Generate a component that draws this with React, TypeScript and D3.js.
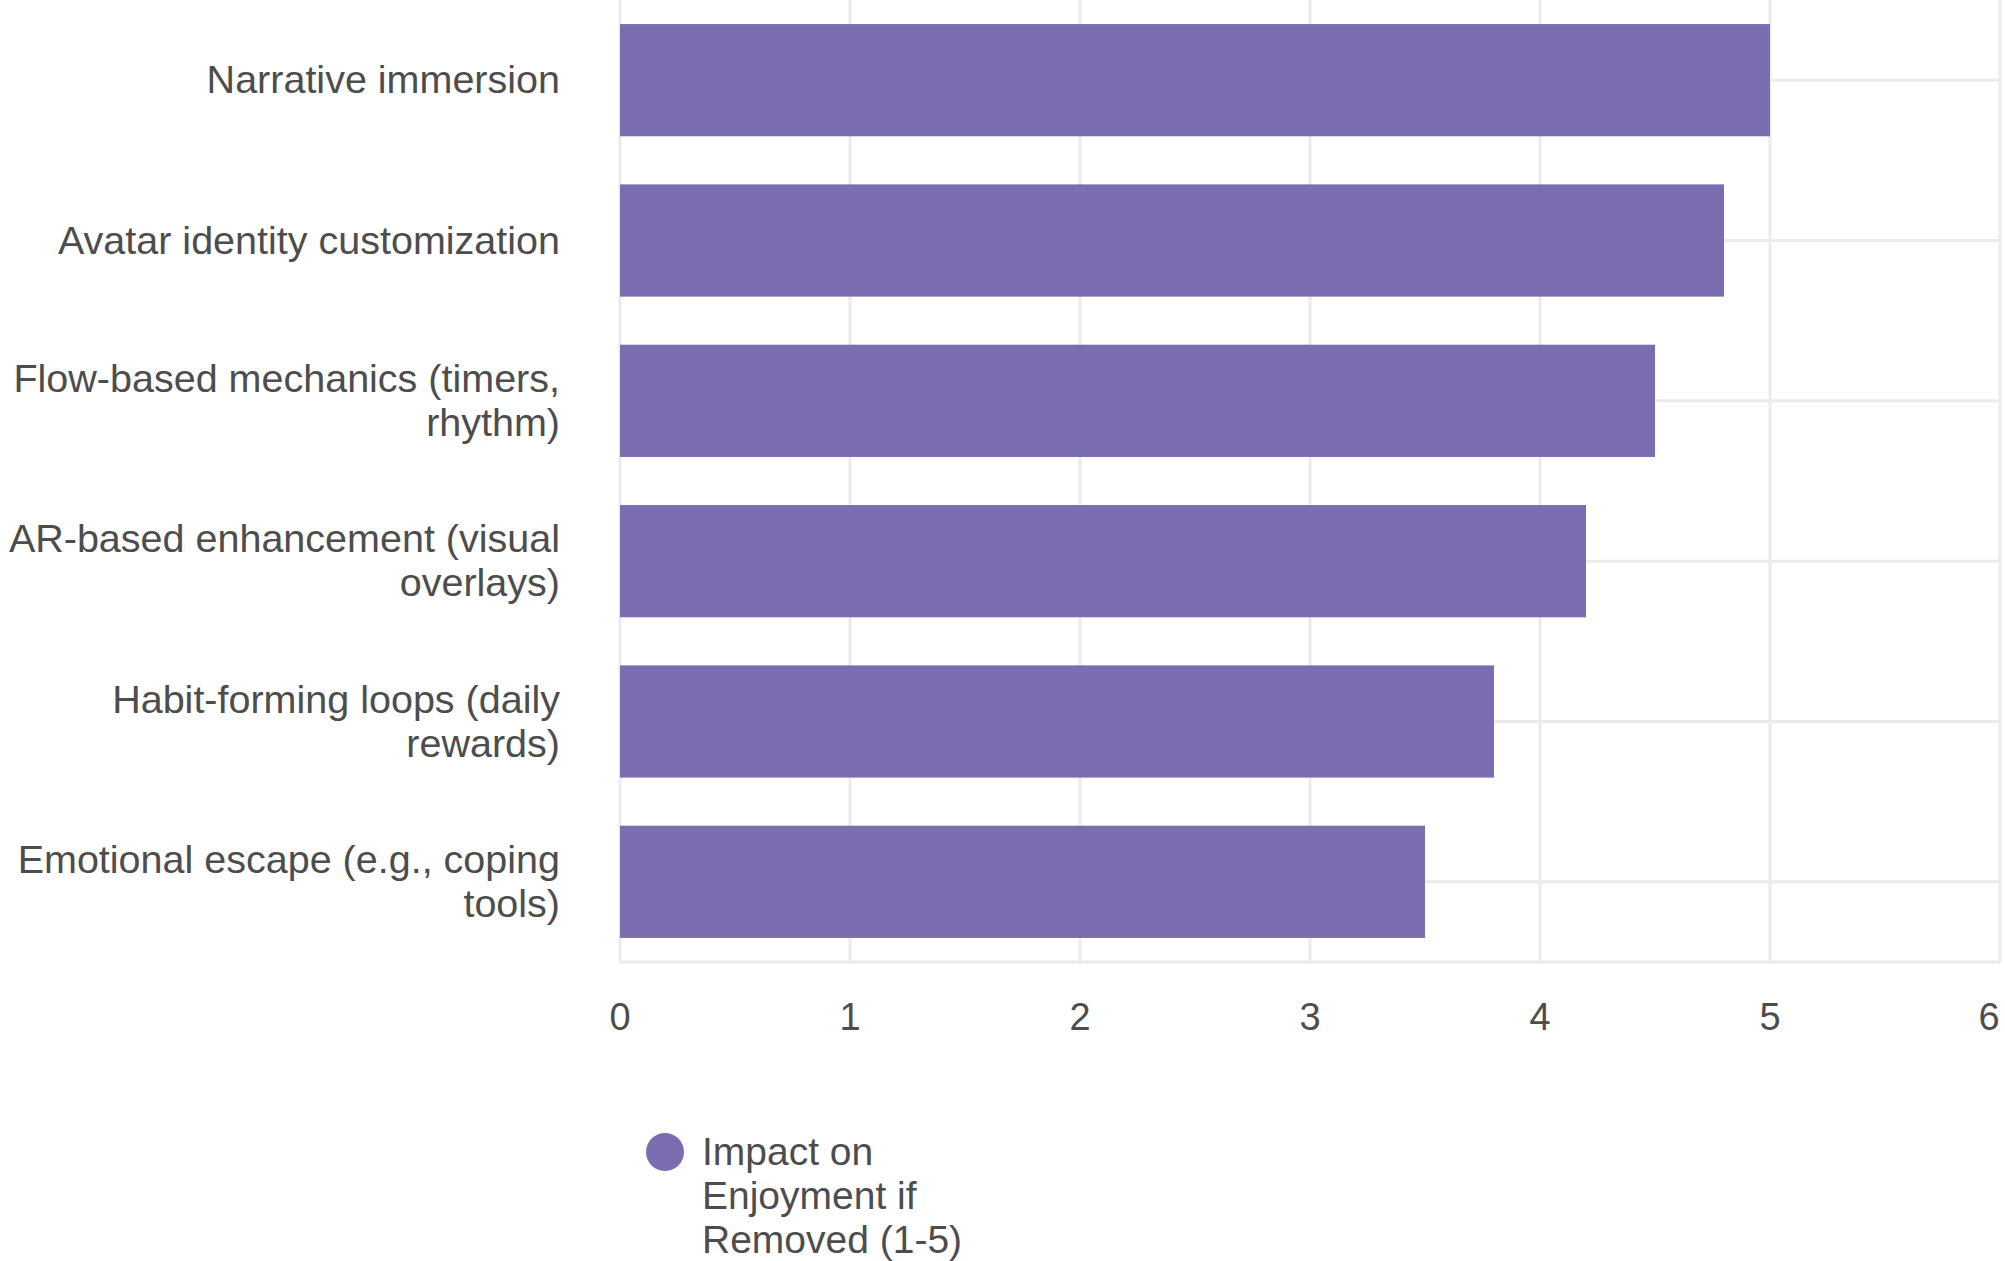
import * as d3 from 'd3'

const CATEGORIES = [
  ['Narrative immersion'],
  ['Avatar identity customization'],
  ['Flow-based mechanics (timers,', 'rhythm)'],
  ['AR-based enhancement (visual', 'overlays)'],
  ['Habit-forming loops (daily', 'rewards)'],
  ['Emotional escape (e.g., coping', 'tools)'],
]
const VALUES = [5, 4.8, 4.5, 4.2, 3.8, 3.5]
const X_TICKS = [0, 1, 2, 3, 4, 5, 6]
const LEGEND_LINES = ['Impact on', 'Enjoyment if', 'Removed (1-5)']

const W = 2005
const H = 1261
const FONT = '"Liberation Sans", Arial, sans-serif'
const BAR = '#7b6db0'
const GRID = '#ebebeb'
const TEXT = '#4d4d4d'

export default function App() {
  const x = d3.scaleLinear().domain([0, 6]).range([620, 2000])
  const y = d3.scaleBand<number>().domain(d3.range(CATEGORIES.length)).range([0, 962]).paddingInner(0.3).paddingOuter(0.15)
  const bw = y.bandwidth()

  return (
    <svg width={W} height={H} style={{ position: 'absolute', left: 0, top: 0, background: 'white' }}>
      {X_TICKS.map((t) => (
        <line key={'gx' + t} x1={x(t)} x2={x(t)} y1={0} y2={962} stroke={GRID} strokeWidth={3} />
      ))}
      {CATEGORIES.map((_, i) => (
        <line key={'gy' + i} x1={x(0)} x2={x(6)} y1={y(i)! + bw / 2} y2={y(i)! + bw / 2} stroke={GRID} strokeWidth={3} />
      ))}
      <line x1={x(0)} x2={x(6)} y1={962} y2={962} stroke={GRID} strokeWidth={3} />
      {VALUES.map((v, i) => (
        <rect key={'b' + i} x={x(0)} y={y(i)} width={x(v) - x(0)} height={bw} fill={BAR} />
      ))}
      {CATEGORIES.map((lines, i) => {
        const cy = y(i)! + bw / 2
        return (
          <text key={'l' + i} textAnchor="end" fontFamily={FONT} fontSize={39.5} fill={TEXT}>
            {lines.map((ln, j) => (
              <tspan key={j} x={560} y={cy + 13 + (j - (lines.length - 1) / 2) * 44}>{ln}</tspan>
            ))}
          </text>
        )
      })}
      {X_TICKS.map((t) => (
        <text key={'tx' + t} x={Math.min(x(t), W - 16)} y={1030} textAnchor="middle" fontFamily={FONT} fontSize={38} fill={TEXT}>{t}</text>
      ))}
      <circle cx={665} cy={1152} r={19} fill={BAR} />
      <text fontFamily={FONT} fontSize={39} fill={TEXT}>
        {LEGEND_LINES.map((ln, j) => (
          <tspan key={j} x={702} y={1165 + j * 44}>{ln}</tspan>
        ))}
      </text>
    </svg>
  )
}
